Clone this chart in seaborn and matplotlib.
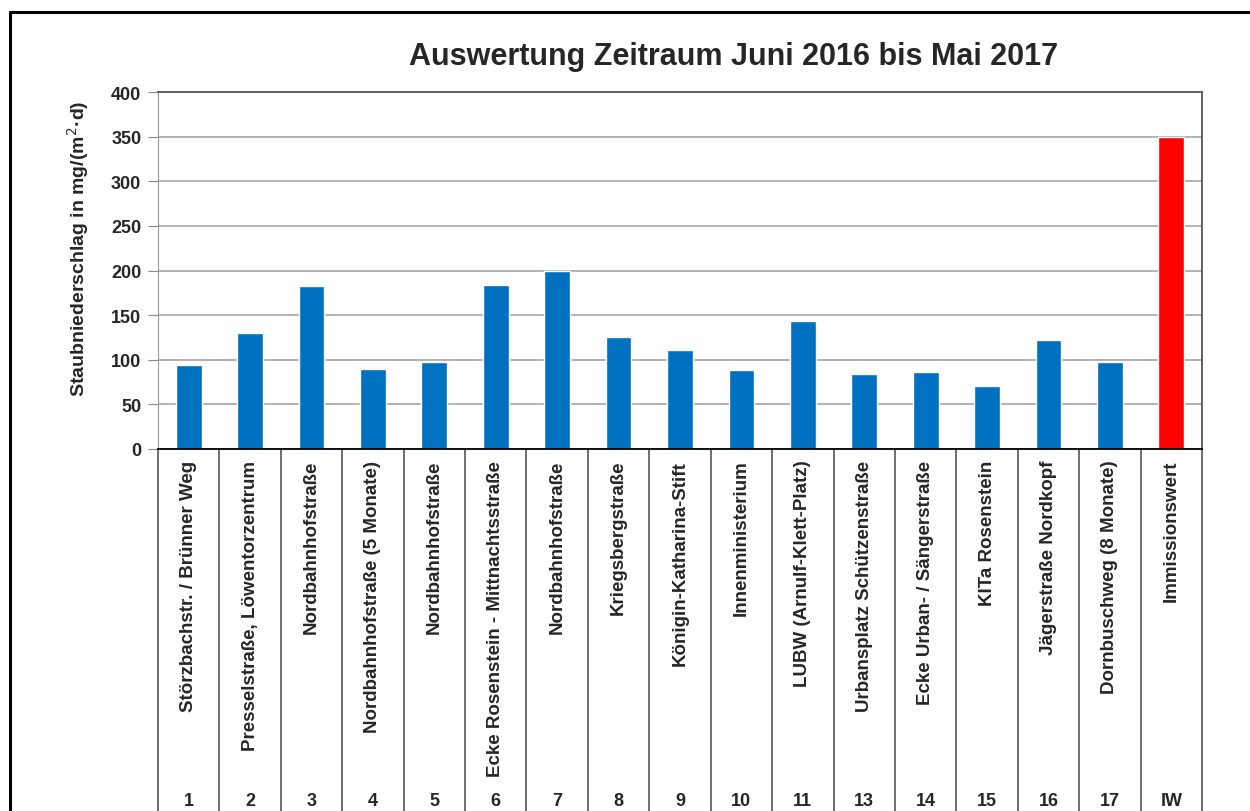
import numpy as np
import pandas as pd
import matplotlib
matplotlib.use("Agg")
import matplotlib.pyplot as plt
from matplotlib.lines import Line2D
import seaborn as sns

####################################################################################################
###################### данные ######################################################################
####################################################################################################

nummern = ["1", "2", "3", "4", "5", "6", "7", "8", "9", "10", "11", "13", "14", "15", "16", "17", "IW"]
orte = [
    "Störzbachstr. / Brünner Weg",
    "Presselstraße, Löwentorzentrum",
    "Nordbahnhofstraße",
    "Nordbahnhofstraße (5 Monate)",
    "Nordbahnhofstraße",
    "Ecke Rosenstein - Mittnachtsstraße",
    "Nordbahnhofstraße",
    "Kriegsbergstraße",
    "Königin-Katharina-Stift",
    "Innenministerium",
    "LUBW (Arnulf-Klett-Platz)",
    "Urbansplatz Schützenstraße",
    "Ecke Urban- / Sängerstraße",
    "KITa Rosenstein",
    "Jägerstraße Nordkopf",
    "Dornbuschweg (8 Monate)",
    "Immissionswert",
]
werte = [94, 130, 183, 90, 97, 184, 199, 126, 111, 89, 143, 84, 86, 71, 122, 98, 350]
art = ["Messung"] * 16 + ["Grenzwert"]

df = pd.DataFrame({"nr": nummern, "ort": orte, "wert": werte, "art": art})

####################################################################################################
###################### график ######################################################################
####################################################################################################

sns.set_style("white")
plt.rcParams["font.family"] = ["Liberation Sans", "DejaVu Sans"]

fig = plt.figure(figsize=(12.5, 8.12), dpi=100)
ax = fig.add_axes([158 / 1250, 1 - 450 / 812, (1202 - 158) / 1250, (450 - 93) / 812])

sns.barplot(data=df, x="nr", y="wert", hue="art", palette={"Messung": "#0070C0", "Grenzwert": "#FF0000"},
            width=0.42, dodge=False, legend=False, saturation=1, ax=ax)

ax.set_ylim(0, 400)
ax.set_xlim(-0.5, len(nummern) - 0.5)
ax.set_yticks(np.arange(0, 401, 50))
ax.yaxis.grid(True, color="#a6a6a6", linewidth=1.2)
ax.set_axisbelow(True)
ax.tick_params(axis="y", left=True, length=7, color="#888888", labelsize=13, pad=5)
for lab in ax.get_yticklabels():
    lab.set_fontweight("bold")
ax.set_xticks([])
ax.set_xlabel("")
ax.set_ylabel("Staubniederschlag in mg/(m$^2$·d)", fontsize=14, fontweight="bold")
ax.yaxis.set_label_coords(-0.064, 0.565)

for s in ["top", "right"]:
    ax.spines[s].set_color("#555555")
    ax.spines[s].set_linewidth(1.3)
ax.spines["left"].set_color("#999999")
ax.spines["bottom"].set_color("#000000")
ax.spines["bottom"].set_linewidth(1.3)

# таблица категорий под осью
trans = ax.get_xaxis_transform()
for i in range(len(nummern) + 1):
    ax.plot([i - 0.5, i - 0.5], [0, -1.05], transform=trans, color="#555555", lw=1.2, clip_on=False)
for i, (ort, nr) in enumerate(zip(orte, nummern)):
    ax.text(i, -0.03, ort, transform=trans, rotation=90, ha="center", va="top",
            fontsize=13.5, fontweight="bold")
    ax.text(i, -0.985, nr, transform=trans, ha="center", va="center", fontsize=13, fontweight="bold")

fig.text(0.587, 1 - 57 / 812, "Auswertung Zeitraum Juni 2016 bis Mai 2017", ha="center", va="center",
         fontsize=22, fontweight="bold")

# рамка
fig.add_artist(Line2D([10 / 1250, 10 / 1250], [0, 1 - 13 / 812], color="black", lw=2.2))
fig.add_artist(Line2D([10 / 1250, 1], [1 - 13 / 812, 1 - 13 / 812], color="black", lw=2.2))

fig.savefig("out.png", dpi=100)
